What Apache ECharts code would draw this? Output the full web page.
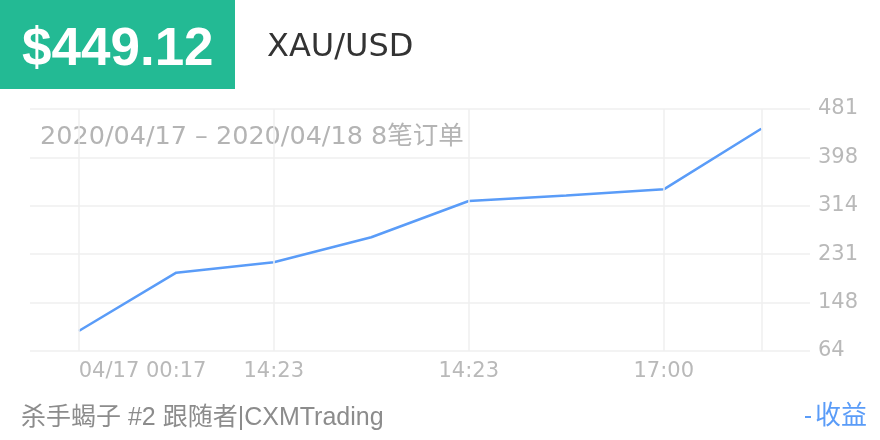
<!DOCTYPE html>
<html>
<head>
<meta charset="utf-8">
<script src="https://cdn.jsdelivr.net/npm/echarts@6/dist/echarts.min.js"></script>
<style>
html,body{margin:0;padding:0;background:#fff;}
#c{width:880px;height:440px;}
</style>
</head>
<body>
<div id="c"></div>
<script>
// ---- data ----
var categories = ['04/17 00:17', '', '14:23', '', '14:23', '', '17:00', ''];
var profitValues = [98.5, 199, 217, 260, 322.5, 332, 342.6, 447];
var yTickValues = [64, 147.4, 230.8, 314.2, 397.6, 481];
var yTickLabels = ['64', '148', '231', '314', '398', '481'];
var verticalGridIdx = [0, 2, 4, 6, 7];
var priceText = '$449.12';
var symbolText = 'XAU/USD';
var rangeText = '2020/04/17 – 2020/04/18 8笔订单';
var footerText = '杀手蝎子 #2 跟随者|CXMTrading';
var seriesName = '收益';

var LAT = '"Liberation Sans", "Noto Sans CJK SC", sans-serif';
var WIDE = '"DejaVu Sans", "Noto Sans CJK SC", sans-serif';
var chart = echarts.init(document.getElementById('c'), null, {renderer: 'canvas'});

var option = {
  animation: false,
  backgroundColor: '#ffffff',
  grid: {left: 30, right: 70, top: 109, bottom: 89, containLabel: false},
  legend: {
    data: [seriesName],
    right: 8, bottom: 5,
    icon: 'rect', itemWidth: 6, itemHeight: 2, itemGap: 4,
    textStyle: {color: '#5a9cf8', fontSize: 26, fontFamily: LAT, padding: [0, 0, 0, -1]}
  },
  xAxis: {
    type: 'category',
    data: categories,
    boundaryGap: true,
    axisLine: {show: false},
    axisTick: {show: false},
    splitLine: {show: false},
    axisLabel: {
      interval: 0, color: '#b9b9b9', fontSize: 21, fontFamily: WIDE, margin: 10,
      alignMinLabel: 'left'
    }
  },
  yAxis: {
    type: 'value',
    position: 'right',
    min: 64, max: 481,
    axisLine: {show: false},
    axisTick: {show: false, customValues: yTickValues},
    splitLine: {show: true, lineStyle: {color: '#efefef', width: 1.5}},
    axisLabel: {
      customValues: yTickValues,
      color: '#b9b9b9', fontSize: 21, fontFamily: WIDE, margin: 8,
      formatter: function (v) {
        var best = 0;
        for (var i = 1; i < yTickValues.length; i++) {
          if (Math.abs(yTickValues[i] - v) < Math.abs(yTickValues[best] - v)) best = i;
        }
        return yTickLabels[best];
      }
    }
  },
  series: [{
    name: seriesName,
    type: 'line',
    data: profitValues,
    showSymbol: false,
    symbol: 'none',
    itemStyle: {color: '#5a9cf8'},
    lineStyle: {color: '#5a9cf8', width: 2.5},
    markLine: {
      silent: true,
      symbol: 'none',
      label: {show: false},
      lineStyle: {color: '#efefef', width: 1.5, type: 'solid'},
      data: verticalGridIdx.map(function (i) { return {xAxis: i}; })
    },
    z: 3
  }],
  graphic: [
    {type: 'rect', left: 0, top: 0, shape: {width: 235, height: 89}, style: {fill: '#23ba94'}},
    {type: 'text', left: 22, top: 24, style: {text: priceText, fill: '#ffffff', font: 'bold 53px ' + LAT}},
    {type: 'text', left: 267, top: 32, style: {text: symbolText, fill: '#333333', font: '32px ' + WIDE}},
    {type: 'text', left: 40, top: 125, style: {text: rangeText, fill: '#b4b4b4', font: '25.5px ' + WIDE}},
    {type: 'text', left: 21, top: 406, style: {text: footerText, fill: '#8c8c8c', font: '25px ' + LAT}}
  ]
};
chart.setOption(option);
</script>
</body>
</html>
